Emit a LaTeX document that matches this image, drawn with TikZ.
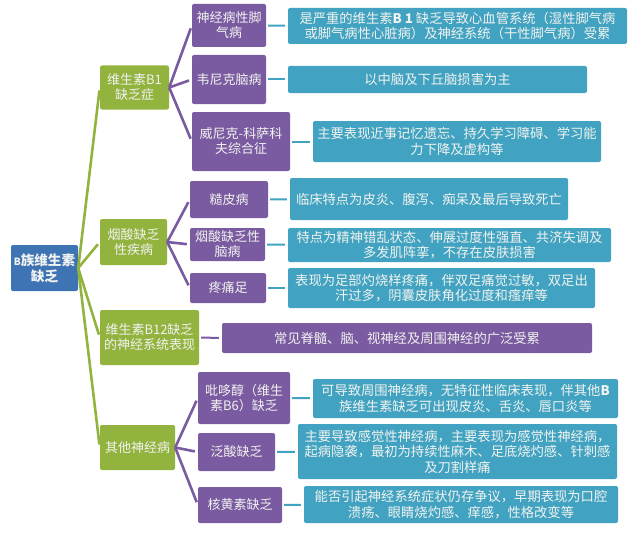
\documentclass[tikz,border=0pt]{standalone}
\usepackage{fontspec}
\setmainfont{Noto Sans CJK SC}
\definecolor{rootblue}{HTML}{3F74B4}
\definecolor{leafgreen}{HTML}{93B33F}
\definecolor{midpurple}{HTML}{7A5AA0}
\definecolor{endteal}{HTML}{41A3C1}
\definecolor{softwhite}{HTML}{F1F3F0}
\tikzset{
    box/.style={shape=rectangle, rounded corners=2pt, inner sep=0pt, align=center, text=softwhite, font=\fontsize{13}{15}\selectfont},
    rootbox/.style={box, fill=rootblue, font=\fontsize{13.6}{16}\selectfont\bfseries},
    groupbox/.style={box, fill=leafgreen},
    midbox/.style={box, fill=midpurple},
    endbox/.style={box, fill=endteal, font=\fontsize{13.3}{15.5}\selectfont},
    link/.style={-, line width=2.6pt, shorten >=3pt},
    stub/.style={-, line width=2pt, shorten <=2pt, shorten >=3pt},
}
\begin{document}
\begin{tikzpicture}[x=1pt, y=-1pt]
    \useasboundingbox (0,0) rectangle (640,535);

    \node[rootbox, minimum width=67pt, minimum height=46pt] (root) at (44.5,268) {{\fontsize{10}{16}\selectfont B}族维生素\\缺乏};

    \node[groupbox, minimum width=69pt, minimum height=44pt] (bone) at (134.5,87.5) {维生素B1\\缺乏症};
    \node[groupbox, minimum width=67pt, minimum height=46pt] (niacin) at (133.5,242) {烟酸缺乏\\性疾病};
    \node[groupbox, minimum width=99pt, minimum height=55pt] (btwelve) at (149.5,337.5) {维生素B12缺乏\\的神经系统表现};
    \node[groupbox, minimum width=75pt, minimum height=45pt] (other) at (137.5,447.5) {其他神经病};

    \node[midbox, minimum width=74pt, minimum height=43pt] (beri) at (229,25.5) {神经病性脚\\气病};
    \node[midbox, minimum width=74pt, minimum height=49pt] (wer) at (229,79.5) {韦尼克脑病};
    \node[midbox, minimum width=98pt, minimum height=59pt] (wks) at (241,141.5) {威尼克-科萨科\\夫综合征};
    \node[midbox, minimum width=78pt, minimum height=37pt] (pel) at (229,199.5) {糙皮病};
    \node[midbox, minimum width=75pt, minimum height=33pt] (enc) at (227.5,244.5) {烟酸缺乏性\\脑病};
    \node[midbox, minimum width=76pt, minimum height=30pt] (foot) at (228,288) {疼痛足};
    \node[midbox, minimum width=92pt, minimum height=52pt] (pyr) at (244,398) {吡哆醇（维生\\素B6）缺乏};
    \node[midbox, minimum width=77pt, minimum height=38pt] (pan) at (236.5,452) {泛酸缺乏};
    \node[midbox, minimum width=84pt, minimum height=36pt] (rib) at (240,505) {核黄素缺乏};
    \node[midbox, font=\fontsize{13.3}{15.5}\selectfont, minimum width=370pt, minimum height=30pt] (spine) at (407,338) {常见脊髓、脑、视神经及周围神经的广泛受累};

    \node[endbox, minimum width=339pt, minimum height=36pt] (tberi) at (457.5,26) {是严重的维生素{\bfseries B 1} 缺乏导致心血管系统（湿性脚气病\\或脚气病性心脏病）及神经系统（干性脚气病）受累};
    \node[endbox, minimum width=299pt, minimum height=27pt] (twer) at (437.5,79.5) {以中脑及下丘脑损害为主};
    \node[endbox, minimum width=288pt, minimum height=41pt] (twks) at (457,141.5) {主要表现近事记忆遗忘、持久学习障碍、学习能\\力下降及虚构等};
    \node[endbox, minimum width=278pt, minimum height=42pt] (tpel) at (429,199) {临床特点为皮炎、腹泻、痴呆及最后导致死亡};
    \node[endbox, minimum width=323pt, minimum height=34pt] (tenc) at (449.5,245) {特点为精神错乱状态、伸展过度性强直、共济失调及\\多发肌阵挛，不存在皮肤损害};
    \node[endbox, minimum width=307pt, minimum height=40pt] (tfoot) at (441.5,288) {表现为足部灼烧样疼痛，伴双足痛觉过敏，双足出\\汗过多，阴囊皮肤角化过度和瘙痒等};
    \node[endbox, minimum width=305pt, minimum height=39pt] (tpyr) at (465.5,398.5) {可导致周围神经病，无特征性临床表现，伴其他{\bfseries B}\\族维生素缺乏可出现皮炎、舌炎、唇口炎等};
    \node[endbox, minimum width=319pt, minimum height=55pt] (tpan) at (457.5,451.5) {主要导致感觉性神经病，主要表现为感觉性神经病，\\起病隐袭，最初为持续性麻木、足底烧灼感、针刺感\\及刀割样痛};
    \node[endbox, minimum width=314pt, minimum height=37pt] (trib) at (461,504.5) {能否引起神经系统症状仍存争议，早期表现为口腔\\溃疡、眼睛烧灼感、痒感，性格改变等};

    \path [link, leafgreen](root.east) edge  (bone.west);
    \path [link, leafgreen](root.east) edge  (niacin.west);
    \path [link, leafgreen](root.east) edge  (btwelve.west);
    \path [link, leafgreen](root.east) edge  (other.west);

    \path [link, midpurple](bone.east) edge  (beri.west);
    \path [link, midpurple](bone.east) edge  (wer.west);
    \path [link, midpurple](bone.east) edge  (wks.west);
    \path [link, midpurple](niacin.east) edge  (pel.west);
    \path [link, midpurple](niacin.east) edge  (enc.west);
    \path [link, midpurple](niacin.east) edge  (foot.west);
    \path [link, midpurple](other.east) edge  (pyr.west);
    \path [link, midpurple](other.east) edge  (pan.west);
    \path [link, midpurple](other.east) edge  (rib.west);
    \path [stub, midpurple](btwelve.east) edge  (spine.west);

    \path [stub, endteal](beri) edge  (tberi);
    \path [stub, endteal](wer) edge  (twer);
    \path [stub, endteal](wks) edge  (twks);
    \path [stub, endteal](pel) edge  (tpel);
    \path [stub, endteal](enc) edge  (tenc);
    \path [stub, endteal](foot) edge  (tfoot);
    \path [stub, endteal](pyr) edge  (tpyr);
    \path [stub, endteal](pan) edge  (tpan);
    \path [stub, endteal](rib) edge  (trib);

\end{tikzpicture}
\end{document}
